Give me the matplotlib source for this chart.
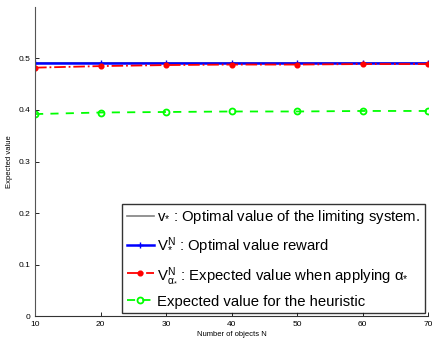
import matplotlib
matplotlib.use("Agg")
import matplotlib.pyplot as plt

plt.rcParams['font.family'] = ['Liberation Sans', 'DejaVu Sans']
plt.rcParams['mathtext.fontset'] = 'custom'
plt.rcParams['mathtext.rm'] = 'Liberation Sans'
plt.rcParams['mathtext.it'] = 'Liberation Sans'
plt.rcParams['mathtext.bf'] = 'Liberation Sans:bold'

N = [10, 20, 30, 40, 50, 60, 70]
v_limit = [0.491] * 7
v_opt = [0.491, 0.491, 0.491, 0.491, 0.491, 0.491, 0.491]
v_alpha = [0.482, 0.485, 0.487, 0.488, 0.488, 0.489, 0.489]
v_heur = [0.392, 0.395, 0.396, 0.397, 0.397, 0.398, 0.398]
xticks = [10, 20, 30, 40, 50, 60, 70]
yticks = [0, 0.1, 0.2, 0.3, 0.4, 0.5]

fig = plt.figure(figsize=(4.33, 3.40), dpi=100)
ax = fig.add_axes([0.081, 0.07, 0.908, 0.91])

ax.plot(N, v_limit, color='#808080', lw=1.2, label=r'$\mathrm{v}_{*}$ : Optimal value of the limiting system.')
ax.plot(N, v_opt, color='#0000ff', lw=1.8, marker='+', ms=4.5, mew=1.0,
        label=r'$\mathrm{V}_{*}^{\mathrm{N}}$ : Optimal value reward')
ax.plot(N, v_alpha, color='#ff0000', lw=1.3, ls='-.', marker='o', ms=3.4,
        label=r'$\mathrm{V}_{\alpha_{*}}^{\mathrm{N}}$ : Expected value when applying $\alpha_{*}$')
ax.plot(N, v_heur, color='#00ff00', lw=1.3, ls=(0, (4.5, 4)), marker='o', ms=4.3,
        mfc='none', mew=1.3, label='Expected value for the heuristic')

ax.set_xlim(10, 70)
ax.set_ylim(0, 0.6)
ax.set_xticks(xticks)
ax.set_yticks(yticks)
ax.set_yticklabels(['0', '0.1', '0.2', '0.3', '0.4', '0.5'])
ax.tick_params(labelsize=6, direction='in', length=3, width=0.6)
ax.spines['top'].set_visible(False)
ax.spines['right'].set_visible(False)
ax.spines['left'].set_color('#555555')
ax.spines['bottom'].set_color('#333333')
ax.set_xlabel('Number of objects N', fontsize=5.5, labelpad=2)
ax.set_ylabel('Expected value', fontsize=5.5, labelpad=4)

leg = ax.legend(loc='lower right', fontsize=10.7, frameon=True, fancybox=False,
                edgecolor='black', handlelength=1.8, handletextpad=0.25,
                borderpad=0.3, labelspacing=0.6, borderaxespad=0,
                bbox_to_anchor=(0.9916, 0.0103))
leg.get_frame().set_linewidth(1.0)

fig.savefig('out.png', dpi=100)
